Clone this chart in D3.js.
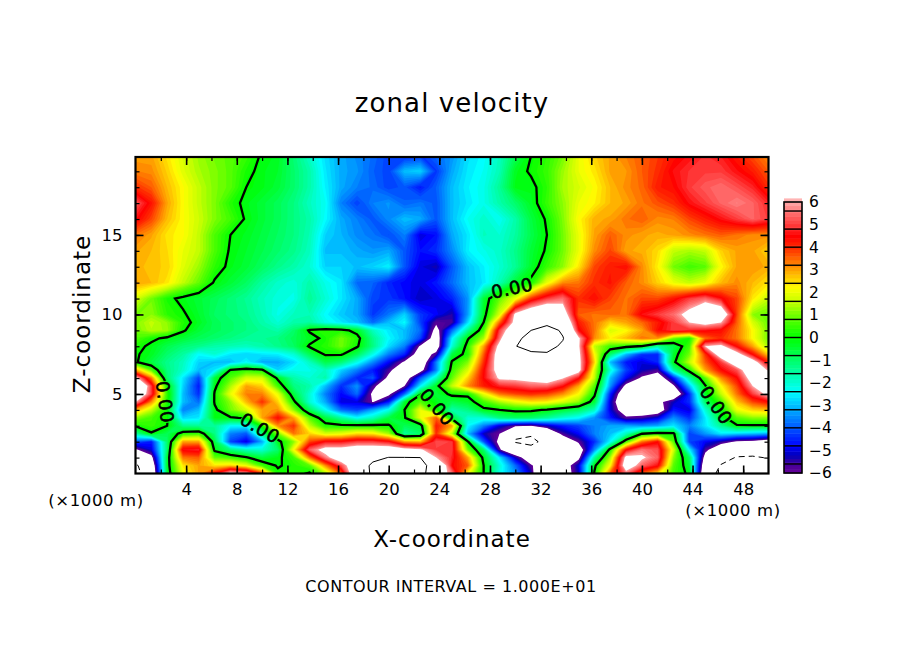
<!DOCTYPE html>
<html>
<head>
<meta charset="utf-8">
<script src="https://cdn.jsdelivr.net/npm/d3@7/dist/d3.min.js"></script>
<style>
body { margin: 0; background: #fff; }
text { font-family: "DejaVu Sans", sans-serif; fill: #000; }
</style>
</head>
<body>
<div id="app"></div>
<script>
// grid positions in km
const xLevels = d3.range(41).map(i => i * 1.25);
const zLevels = [20, 19, 18, 17, 16, 15, 14, 13, 12, 11, 10, 9.5, 9, 8.5, 8, 7.5, 7, 6.5, 6, 5.5, 5, 4.5, 4, 3.5, 3, 2.5, 2, 1.5, 1, 0.5, 0];

// zonal velocity, one row per zLevel, top row first
const u = [
[3,3,2.4,1.8,1.3,1,.8,.5,-.1,-.3,-1.1,-1.9,-2.7,-3.2,-3.5,-3.8,-4.2,-4.5,-4.3,-3.8,-3.4,-2.7,-2.4,-1.8,-.8,0,.4,1,2,2.6,3,3.3,3.6,3.9,4.3,4.6,4.9,4.7,4.2,3.7,3.2],
[3.3,3.2,2.6,1.9,1.4,1.1,.8,.2,-.2,-.4,-1,-1.6,-2.6,-3.2,-3.4,-3.9,-4.2,-3,-2.8,-4.3,-3.2,-2.6,-2.3,-1.7,-.3,.1,.5,1.3,2,2.4,3,3.1,3.6,4,4.6,4.9,5,5,4.6,4.2,3.6],
[4,3.6,2.8,2.2,1.6,1.1,.8,0,-.2,-.5,-1,-1.6,-2.5,-3.2,-3.6,-3.8,-4.2,-4,-4.6,-3.9,-3,-2.5,-2.2,-1.4,-.2,-.2,.4,1.4,1.8,2.2,2.8,3.2,3.5,4.2,4.4,5,5.3,5.5,5.2,4.8,4],
[5.3,4.3,3,2.2,1.6,1.1,.3,-.2,-.5,-.8,-1.2,-1.8,-2.3,-3.6,-4.2,-3.6,-3.4,-3.9,-3.7,-4,-3,-2.6,-2.2,-1.6,-1,-.3,.5,1.2,2,2.3,2.8,3,3.4,3.7,4,4.6,5,5.4,5.7,5.4,4.8],
[4.6,3.8,2.8,2.2,1.7,1.1,.6,-.1,-.5,-.8,-1.2,-1.6,-2.4,-3.2,-3.6,-4,-3.5,-3,-3.2,-4,-3,-2.3,-1.9,-2.3,-1.6,-.6,.1,1.1,2.2,2.9,3,3.4,3.6,3.2,3.3,3.8,4.2,4.6,5,5.4,5],
[3.4,3,2.4,2.2,1.6,.7,0,-.3,-.6,-.9,-1.2,-1.7,-2.8,-3.1,-3.5,-3.7,-4.1,-3.6,-5,-4.7,-3.2,-2.6,-1.8,-2,-1.5,-.7,0,1,2,3,3.6,3.2,3,2.9,3,3.2,3.4,3.6,3.4,3.2,3.2],
[3,2.8,2.5,2,1.6,.7,-.1,-.4,-.7,-1,-1.3,-1.8,-3,-3,-3.2,-3.4,-3.2,-4,-4.7,-4.4,-3.5,-2.5,-2.2,-1.9,-1.3,-.5,.1,1,2,3.2,3.8,3,2.9,2.5,1.6,1.4,1.6,2.6,3,3,2.6],
[2.9,2.7,2.6,1.9,1.3,.4,-.2,-.5,-.9,-1.3,-1.6,-2,-2.8,-2.8,-3,-2.8,-2.5,-4,-5,-5.3,-4,-3,-2.5,-2,-1.4,-.4,.5,1.2,2.4,3.8,4.2,4.4,3.2,2.3,1,.6,.8,2.2,3,3.1,2.9],
[3,2.8,2.4,1.6,.9,-.1,-.5,-.9,-1.5,-1.9,-2.1,-1.6,-2.2,-2.6,-3.8,-3.9,-4.5,-4.8,-5,-4.6,-3.8,-3,-2.6,-1.7,-.5,.2,2,3.2,3.4,4,4.3,3.6,3.2,2.6,2,1.6,2,2.8,3.2,2.8,2.4],
[1.8,1,.2,-.2,-.5,-.8,-1.1,-1.4,-1.8,-2.1,-2.2,-1.4,-2,-2.6,-3.2,-4.2,-4.3,-4.7,-5.2,-5,-4.5,-3.4,-.5,.9,2,4,5,5.5,4,4.4,3.8,3.4,3.8,3.8,4.3,5,5.4,4.6,3.8,2.4,1.6],
[1,1.2,.4,.1,-.4,-.9,-1.1,-1.3,-1.7,-2.2,-1.8,-1.7,-2.4,-2.9,-3.2,-4.3,-3.7,-2.8,-4.3,-4.8,-5.4,-3.3,-.3,1.8,6.3,7.5,8,7,3.6,3.4,3.5,3.4,4.6,5,5.5,6.5,8,7.5,3.8,1.2,.9],
[1.1,1.6,1.2,.3,-.3,-.8,-1,-1.2,-1.6,-2,-1.6,-1.5,-2.2,-2.6,-3,-3.8,-3,-2.4,-4.2,-5.8,-5.6,-2.7,0,3.5,6.5,8,9,8,4.2,3.4,2.6,3,3.5,4.2,5,6,6.6,6,3.6,1.8,.9],
[1,1.5,1.3,.1,-.5,-.8,-1,-1.2,-1.4,-1.6,-1,.1,.4,.3,-.3,-1.8,-2.6,-3,-3.8,-6.5,-3.8,-1.4,.6,5,7.5,10,11.5,9.5,4.6,3.4,1.8,2.2,3,4.4,5,4.8,4.6,4.4,3.4,2.2,1],
[.7,.2,-.2,-.5,-.8,-1,-1.2,-1.4,-1.4,-1.2,-.8,-.3,.2,1,.3,-1.3,-2.4,-3,-4.2,-7,-2.5,-.1,1.4,5.5,9.3,11,12,10.2,6.2,3.2,2.3,2.8,3.4,3.2,1,.2,3.5,4,3.4,2.2,1],
[.3,-.2,-.7,-1.1,-1.3,-1.6,-1.7,-1.8,-1.6,-1.3,-.9,.1,.3,1,.1,-1.2,-2.7,-3.6,-6.2,-7,-2,.4,3,6.5,9.9,11,11,9.5,6.2,1.6,.6,.3,-.1,-1.5,-.7,.6,6,6.4,4.4,3,1.3],
[.1,-.3,-1,-1.5,-2.4,-2,-2.6,-2.8,-2.6,-2.5,-2,-.8,.1,.1,-.8,-2.2,-3.6,-4.5,-7,-5.6,-.6,.3,3.6,7,8.5,9.5,9.7,7.5,6.4,2.2,-1,-3,-4.3,-4.4,-.4,1,4,7,6.6,4.4,2.6],
[.1,-.6,-1.3,-1.8,-2.8,-3,-3,-2.4,-3.2,-3.2,-2.7,-1.8,-.7,-1.1,-2.2,-3.5,-4.8,-6.2,-7.5,-3.6,.1,1.1,4,7,8,8,8.5,6.8,6.5,2.6,-3,-4.6,-5,-4.5,-.2,1.6,3.6,5,7.2,6.8,4.2],
[3,.8,-1.2,-1.9,-3,-2.6,.1,.5,.2,-2.8,-2.2,-2.2,-1.8,-2.8,-3.6,-4.6,-5.6,-7.5,-6.6,-3.6,.5,1.8,4.4,6.8,7,7,7.8,7,6.6,1.8,-2,-4.2,-5.2,-5.6,-1.5,.3,3,4.4,5.2,7.5,5.8],
[6.4,3.4,-1,-2.6,-4.2,-.5,.8,1.8,1.8,-.2,-1.6,-2,-1.6,-3.5,-4.5,-4,-6.4,-7,-4,-1.8,.9,2.6,4.5,6.2,6.3,6.5,7,6.1,4.6,1.6,-3,-4.8,-6.2,-7,-4.6,-1.5,.8,3.2,4.4,6.8,8],
[9,5,.1,-2.8,-4.6,-.2,1.4,3,2.6,.6,-1.2,-1.6,-3,-4.4,-3.4,-5.6,-7.5,-6,-2.5,-.3,1.6,3.2,4.2,4.8,5,5.4,5.4,4.6,3,.8,-3.4,-6.4,-7.5,-7.5,-6.2,-3,-.1,2.2,3.8,6,7.6],
[8,5,.4,-3,-4.4,.1,2,3.3,3.3,2,-.6,-2,-3.6,-4.8,-3.8,-6.3,-6.3,-3.8,-.1,-.5,.2,.2,2,3.4,3.8,4,3.8,3.2,2.2,.2,-4.5,-7.5,-8,-7.5,-7.5,-4.4,-.3,1.6,3.4,5,6.4],
[6,3.2,.3,-3,-3.8,.1,1.2,2.8,4,2.6,.2,-2,-3.2,-5,-5,-6.05,-4.6,-.4,.8,-.2,-.7,-.4,.6,1.4,2,2.4,2.3,1.8,1.2,-.5,-5,-8,-8,-6.4,-5.2,-4.4,-1,.6,2.7,3.8,4.4],
[3,1.6,0,-3.6,-3,-.2,1,1.8,3,3.2,1.2,-.8,-2.3,-3.8,-4.2,-3.2,-2.2,0,2,.3,-1.6,-1.2,-.2,0,.2,.2,-.1,-.5,-.9,-1.8,-5,-7,-7.2,-7,-4.6,-5,-2,-.1,2,2.6,2.8],
[1.2,.6,.1,-2.8,-2.6,-.2,-.1,.1,3,4.4,3,.8,-.6,-1.5,-2.4,-1.8,-.6,-.1,2,3.6,-.5,-2,-2,-1.2,-.9,-1,-1.4,-2,-2.4,-3.4,-4.6,-5.8,-5.6,-5,-3.5,-4.4,-2.6,-.4,.8,1.2,1.2],
[.1,.5,0,-1.3,-1.4,-1.4,-2.4,-2.4,.3,3.2,4,1.6,.3,.2,.2,.2,.1,-.8,-.5,4.2,3,-2.4,-3.6,-5,-5.8,-6,-5.2,-4.6,-4.2,-3.6,-3.2,-3.2,-3.4,-3.2,-2.6,-3.6,-2.6,-1.4,-.1,-.1,-.1],
[-1.5,-.1,-.8,.4,.6,-1.2,-3.6,-4,-1.2,1,3.4,2.6,1.8,2,2.5,2.4,1.4,-1.5,-1,4,1.6,-3,-5.2,-6,-9.5,-9.6,-8,-5.6,-4.8,-3.6,-3,-1.8,0,.4,.2,-4.2,-3.4,-2.6,-2.8,-3,-3.2],
[-4,-4.6,-1,3,3,-.6,-4.2,-5,-3.2,-.3,1.2,3.8,4.6,4.6,5,5,4.6,3,2.8,5.2,5,.1,-4,-6.4,-10.2,-10.8,-9,-7.4,-5.8,-4.4,-2.4,.6,3.4,4.4,.8,-4.2,-4.8,-5.4,-6.2,-6.4,-7],
[-6.2,-5,-1,4.6,4.8,-.2,-1.2,-1.8,-2,-1,2.2,5.4,6.5,6.5,7,7,7,6.5,6.2,5,5,1,-1,-5.8,-8,-9,-8.5,-8,-7,-3.5,.3,4.4,5.6,5.2,1.8,-2.5,-5.6,-7.5,-8.2,-8.2,-8.2],
[-8,-6.5,-.5,3.4,3.6,.9,.6,.1,-.6,-.2,.6,3.4,5.6,7,8,9,10.1,10.1,10,6,4.8,3,-.3,-2.6,-5.2,-7.2,-8.5,-8,-6.4,-1.5,1.4,6.4,6.2,5.4,1.2,-.9,-6.6,-8.8,-10.2,-10.4,-9.8],
[-10.5,-7.5,-.4,2.4,3,2.4,2.6,2,.6,-.1,.3,.8,3.2,5.2,7.5,10.8,11.5,11.5,11,8.5,4.5,3.6,0,-2,-3.8,-5.8,-7.6,-7,-5,-.2,2.2,7,5.4,4.6,.8,-.5,-7.4,-10.2,-11,-11,-10.8],
[-11,-8,-.5,2,3,4.5,6.5,6,4,.2,.3,-.1,1.4,3.6,8,10.5,12,12,11.5,7,5.6,2.2,0,-2.2,-3.4,-5.2,-10.4,-7,-5.2,.1,3.6,5.5,3.6,2.5,.6,-.2,-8,-11,-12,-12,-12]
];

const xMajor = [4, 8, 12, 16, 20, 24, 28, 32, 36, 40, 44, 48];
const xMinor = d3.range(2, 50, 2);
const zMajor = [5, 10, 15];
const zMinor = d3.range(1, 20);
const barTicks = [-6, -5, -4, -3, -2, -1, 0, 1, 2, 3, 4, 5, 6];
const barStops = [-6, -5.6, -5.2, -4.8, -4, -3.2, -2.4, -1.6, -0.8, 0, 0.8, 1.6, 2.2, 2.8, 3.2, 4, 4.5, 5, 5.6, 6];
const barColors = ["#660099", "#440099", "#0000bb", "#0000ff", "#0055ff", "#00aaff", "#00ffff", "#00ffaa", "#00ff55", "#00ff00", "#55ff00", "#c4ff00", "#ffff00", "#ffbb00", "#ff8c00", "#ff2a00", "#ff0000", "#ff3b3b", "#ff7777", "#ffaaaa"];
const shadeLevels = d3.range(76).map(i => -6 + i * 0.16);
const barSeps = d3.range(-5.6, 5.7, 0.8);
const lineLevels = [-10, 0, 10];

const width = 904, height = 654;
const svg = d3.select('#app').append('svg').attr('width', width).attr('height', height).style('display', 'block');

const x = d3.scaleLinear().domain([0, 50]).range([135.5, 768.5]);
const z = d3.scaleLinear().domain([0, 19.9]).range([473.5, 157]);
const color = d3.scaleLinear().domain(barStops).range(barColors);

u.forEach((r, i) => { if (r.length !== xLevels.length) throw new Error('row ' + i + ' has ' + r.length); });

// d3.contours puts grid node i at i + 0.5
const nx = xLevels.length, nz = zLevels.length;
const gridX = d3.scaleLinear().domain(xLevels.map((d, i) => i + 0.5)).range(xLevels.map(x));
const gridZ = d3.scaleLinear().domain(zLevels.map((d, i) => i + 0.5)).range(zLevels.map(z));
const path = d3.geoPath(d3.geoTransform({
    point: function (a, b) { this.stream.point(gridX(a), gridZ(b)); }
}));
const contours = d3.contours().size([nx, nz]);
const values = u.flat();

svg.append('clipPath').attr('id', 'plot').append('rect')
    .attr('x', x(0)).attr('y', z(19.9)).attr('width', x(50) - x(0)).attr('height', z(0) - z(19.9));

const field = svg.append('g').attr('clip-path', 'url(#plot)');

// anything under -6 stays white, same above +6
field.selectAll('path.band')
    .data(shadeLevels)
    .enter().append('path')
    .attr('class', 'band')
    .attr('d', d => path(contours.contour(values, d)))
    .attr('fill', d => color(d + 0.08));
field.append('path')
    .attr('d', path(contours.contour(values, 6)))
    .attr('fill', '#fff');

// zero line labels, line is cut under them
const labels = [
    { px: 165, py: 402, rot: 82 },
    { px: 260, py: 428, rot: 30 },
    { px: 437, py: 407, rot: 50 },
    { px: 716, py: 405, rot: 55 },
    { px: 512, py: 288, rot: -12 }
];
const mask = svg.append('mask').attr('id', 'cut').attr('maskUnits', 'userSpaceOnUse')
    .attr('x', 0).attr('y', 0).attr('width', width).attr('height', height);
mask.append('rect').attr('width', width).attr('height', height).attr('fill', '#fff');
mask.selectAll('rect.gap').data(labels).enter().append('rect')
    .attr('class', 'gap')
    .attr('x', -21).attr('y', -9).attr('width', 42).attr('height', 18)
    .attr('fill', '#000')
    .attr('transform', d => `translate(${d.px},${d.py}) rotate(${d.rot})`);

const lines = field.append('g').attr('mask', 'url(#cut)').attr('fill', 'none').attr('stroke', '#000');
lines.selectAll('path')
    .data(lineLevels)
    .enter().append('path')
    .attr('d', d => path(contours.contour(values, d)))
    .attr('stroke-width', d => d === 0 ? 2.3 : 1)
    .attr('stroke-dasharray', d => d < 0 ? '6,4' : null);

svg.append('g').selectAll('text').data(labels).enter().append('text')
    .attr('transform', d => `translate(${d.px},${d.py}) rotate(${d.rot})`)
    .attr('text-anchor', 'middle')
    .attr('dy', '0.36em')
    .style('font-size', '18px')
    .style('letter-spacing', '0.5px')
    .style('stroke', '#000')
    .style('stroke-width', '0.6px')
    .text('0.00');

// axes, ticks point into the frame
function ticks(axis, at, size, w) {
    const g = svg.append('g').attr('transform', at).call(axis.tickSize(size).tickFormat(''));
    g.select('.domain').remove();
    g.selectAll('line').attr('stroke', '#000').attr('stroke-width', w);
}
ticks(d3.axisBottom(x).tickValues(xMinor), `translate(0,${z(0)})`, -4, 1.2);
ticks(d3.axisTop(x).tickValues(xMinor), `translate(0,${z(19.9)})`, -4, 1.2);
ticks(d3.axisBottom(x).tickValues(xMajor), `translate(0,${z(0)})`, -8, 1.6);
ticks(d3.axisTop(x).tickValues(xMajor), `translate(0,${z(19.9)})`, -8, 1.6);
ticks(d3.axisLeft(z).tickValues(zMinor), `translate(${x(0)},0)`, -4, 1.2);
ticks(d3.axisRight(z).tickValues(zMinor), `translate(${x(50)},0)`, -4, 1.2);
ticks(d3.axisLeft(z).tickValues(zMajor), `translate(${x(0)},0)`, -8, 1.6);
ticks(d3.axisRight(z).tickValues(zMajor), `translate(${x(50)},0)`, -8, 1.6);

svg.append('rect')
    .attr('x', x(0)).attr('y', z(19.9)).attr('width', x(50) - x(0)).attr('height', z(0) - z(19.9))
    .attr('fill', 'none').attr('stroke', '#000').attr('stroke-width', 2.2);

const xLab = svg.append('g').attr('transform', `translate(0,${z(0)})`)
    .call(d3.axisBottom(x).tickValues(xMajor).tickSize(0).tickPadding(10));
xLab.select('.domain').remove();
const zLab = svg.append('g').attr('transform', `translate(${x(0)},0)`)
    .call(d3.axisLeft(z).tickValues(zMajor).tickFormat(d3.format('d')).tickSize(0).tickPadding(13));
zLab.select('.domain').remove();
svg.selectAll('.tick text').style('font-size', '16.5px').style('font-family', '"DejaVu Sans"');

// colour bar
const barY = d3.scaleLinear().domain([-6, 6]).range([473, 202]);
const barX = 784, barW = 18;
const bar = svg.append('g');
bar.selectAll('rect.shade')
    .data(shadeLevels)
    .enter().append('rect')
    .attr('class', 'shade')
    .attr('x', barX).attr('width', barW)
    .attr('y', d => barY(d + 0.16))
    .attr('height', d => barY(d) - barY(d + 0.16) + 0.5)
    .attr('fill', d => color(d + 0.08));
bar.selectAll('line')
    .data(barSeps)
    .enter().append('line')
    .attr('x1', barX).attr('x2', barX + barW)
    .attr('y1', d => barY(d)).attr('y2', d => barY(d))
    .attr('stroke', '#000').attr('stroke-width', 1.4);
bar.append('rect')
    .attr('x', barX).attr('y', barY(6)).attr('width', barW).attr('height', barY(-6) - barY(6))
    .attr('fill', 'none').attr('stroke', '#000').attr('stroke-width', 1.6);

const barAxis = svg.append('g').attr('transform', `translate(${barX + barW},0)`)
    .call(d3.axisRight(barY).tickValues(barTicks).tickFormat(d3.format('d')).tickSize(0).tickPadding(7));
barAxis.select('.domain').remove();
barAxis.selectAll('text').style('font-size', '15.5px').style('font-family', '"DejaVu Sans"');

function label(t, px, py, size, anchor, rot) {
    const s = svg.append('text').attr('text-anchor', anchor || 'middle').style('font-size', size + 'px').text(t);
    s.attr('transform', `translate(${px},${py})` + (rot ? ` rotate(${rot})` : ''));
    return s;
}
label('zonal velocity', 452, 112, 26).style('letter-spacing', '1.1px');
label('X-coordinate', 452, 547, 23).style('letter-spacing', '1px');
label('Z-coordinate', 90, 314, 23, 'middle', -90).style('letter-spacing', '1px');
label('(×1000 m)', 96, 506, 16.5).style('letter-spacing', '0.6px');
label('(×1000 m)', 733, 516, 16.5).style('letter-spacing', '0.6px');
label('CONTOUR INTERVAL = 1.000E+01', 451, 592, 16).style('letter-spacing', '0.55px');
</script>
</body>
</html>
